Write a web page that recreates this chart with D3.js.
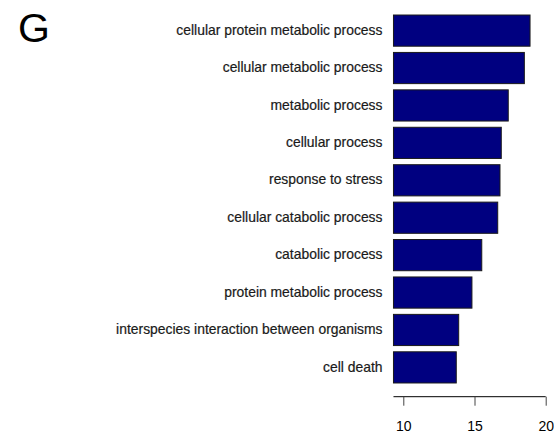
<!DOCTYPE html>
<html><head><meta charset="utf-8">
<script src="https://cdn.jsdelivr.net/npm/d3@7"></script>
<style>body{margin:0;background:#fff}svg{display:block}</style>
</head><body>
<script>
const categories = ["cellular protein metabolic process","cellular metabolic process","metabolic process","cellular process","response to stress","cellular catabolic process","catabolic process","protein metabolic process","interspecies interaction between organisms","cell death"];
const values = [18.9, 18.5, 17.37, 16.88, 16.79, 16.63, 15.51, 14.82, 13.89, 13.72];
const tickValues = [10, 15, 20];
const xMin = 9.31;
const panelLabel = "G";

const W = 554, H = 434;
const svg = d3.select("body").append("svg").attr("width", W).attr("height", H);
const x = d3.scaleLinear().domain([10, 20]).range([403.3, 545.7]);
const y = d3.scaleBand().domain(categories).range([11.9, 386.1]).paddingInner(1/6).paddingOuter(1/12);

svg.append("text").attr("x", 18).attr("y", 42).attr("font-family", "Liberation Sans, Arial, sans-serif")
  .attr("font-size", 41).attr("fill", "#000").text(panelLabel);

svg.selectAll("rect.bar").data(categories).join("rect").attr("class","bar")
  .attr("x", x(xMin)).attr("y", d => y(d)).attr("width", (d,i) => x(values[i]) - x(xMin))
  .attr("height", y.bandwidth()).attr("fill", "#000080").attr("stroke", "#1a1a1a").attr("stroke-width", 1);

svg.selectAll("text.lab").data(categories).join("text").attr("class","lab")
  .attr("x", 382.5).attr("y", d => y(d) + y.bandwidth()/2).attr("dy", "0.3em")
  .attr("text-anchor", "end").attr("font-family", "Liberation Sans, Arial, sans-serif")
  .attr("font-size", 13.9).attr("fill", "#1a1a1a").attr("stroke", "#1a1a1a").attr("stroke-width", 0.2).text(d => d);

const axisG = svg.append("g").attr("transform", "translate(0,396.7)");
axisG.call(d3.axisBottom(x).tickValues(tickValues).tickSize(9).tickPadding(15.4).tickFormat(d3.format("d")));
axisG.select(".domain").attr("d", `M${x(xMin)},0H${x(20)}`).attr("stroke", "#000");
axisG.selectAll(".tick line").attr("stroke", "#444");
axisG.selectAll(".tick text").attr("font-family", "Liberation Sans, Arial, sans-serif").attr("font-size", 14).attr("fill", "#000");
</script>
</body></html>
